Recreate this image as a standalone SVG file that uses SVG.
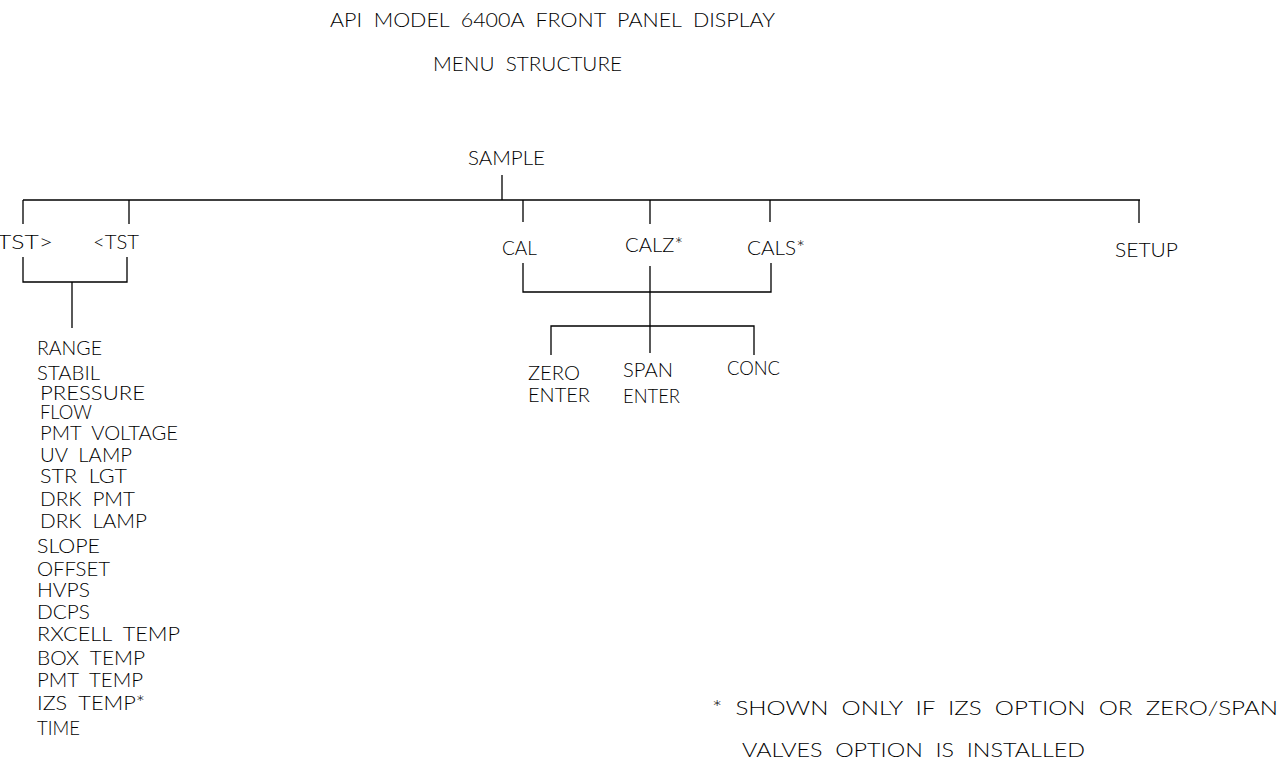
<svg xmlns="http://www.w3.org/2000/svg" width="1288" height="776" viewBox="0 0 1288 776">
<style>
text{font-family:Lato,"Liberation Sans","DejaVu Sans",sans-serif;font-weight:300;font-size:19px;fill:#000;white-space:pre;}
.ln{fill:none;stroke:#000;stroke-width:1.3;}
</style>
<rect width="1288" height="776" fill="#fff"/>
<g id="title" xml:space="preserve">
<text x="330" y="27" textLength="445" lengthAdjust="spacingAndGlyphs">API  MODEL  6400A  FRONT  PANEL  DISPLAY</text>
<text x="433" y="71" textLength="189" lengthAdjust="spacingAndGlyphs">MENU  STRUCTURE</text>
</g>
<g id="connectors" class="ln">
<path d="M502,175V200"/>
<path d="M23,200H1140"/>
<path d="M23,200V224M129,200V224M523,200V222M650,200V224M770,200V222M1139,200V223"/>
<path d="M23,257V282H127V257M72,282V328"/>
<path d="M523,263V292H771V263M650,266V353"/>
<path d="M551,355V326H754V355"/>
</g>
<g id="sample"><text x="468" y="165" textLength="77" lengthAdjust="spacingAndGlyphs">SAMPLE</text></g>
<g id="tst-next"><text x="-3" y="249" textLength="56" lengthAdjust="spacingAndGlyphs">TST&gt;</text></g>
<g id="tst-prev"><text x="93" y="249" textLength="46" lengthAdjust="spacingAndGlyphs">&lt;TST</text></g>
<g id="cal"><text x="502" y="255" textLength="35" lengthAdjust="spacingAndGlyphs">CAL</text></g>
<g id="calz"><text x="625" y="252" textLength="58" lengthAdjust="spacingAndGlyphs">CALZ*</text></g>
<g id="cals"><text x="747" y="255" textLength="58" lengthAdjust="spacingAndGlyphs">CALS*</text></g>
<g id="setup"><text x="1115" y="257" textLength="63" lengthAdjust="spacingAndGlyphs">SETUP</text></g>
<g id="zero-enter"><text x="528" y="380" textLength="52" lengthAdjust="spacingAndGlyphs">ZERO</text><text x="528" y="402" textLength="62" lengthAdjust="spacingAndGlyphs">ENTER</text></g>
<g id="span-enter"><text x="623" y="377" textLength="50" lengthAdjust="spacingAndGlyphs">SPAN</text><text x="623" y="403" textLength="57" lengthAdjust="spacingAndGlyphs">ENTER</text></g>
<g id="conc"><text x="727" y="375" textLength="53" lengthAdjust="spacingAndGlyphs">CONC</text></g>
<g id="test-list" xml:space="preserve">
<text x="37" y="355" textLength="65" lengthAdjust="spacingAndGlyphs">RANGE</text>
<text x="37" y="380" textLength="63" lengthAdjust="spacingAndGlyphs">STABIL</text>
<text x="40" y="400" textLength="105" lengthAdjust="spacingAndGlyphs">PRESSURE</text>
<text x="40" y="419" textLength="52" lengthAdjust="spacingAndGlyphs">FLOW</text>
<text x="40" y="440" textLength="138" lengthAdjust="spacingAndGlyphs">PMT  VOLTAGE</text>
<text x="40" y="462" textLength="92" lengthAdjust="spacingAndGlyphs">UV  LAMP</text>
<text x="40" y="483" textLength="87" lengthAdjust="spacingAndGlyphs">STR  LGT</text>
<text x="40" y="506" textLength="95" lengthAdjust="spacingAndGlyphs">DRK  PMT</text>
<text x="40" y="528" textLength="107" lengthAdjust="spacingAndGlyphs">DRK  LAMP</text>
<text x="37" y="553" textLength="63" lengthAdjust="spacingAndGlyphs">SLOPE</text>
<text x="37" y="576" textLength="73" lengthAdjust="spacingAndGlyphs">OFFSET</text>
<text x="37" y="597" textLength="53" lengthAdjust="spacingAndGlyphs">HVPS</text>
<text x="37" y="619" textLength="53" lengthAdjust="spacingAndGlyphs">DCPS</text>
<text x="37" y="641" textLength="143" lengthAdjust="spacingAndGlyphs">RXCELL  TEMP</text>
<text x="37" y="665" textLength="108" lengthAdjust="spacingAndGlyphs">BOX  TEMP</text>
<text x="37" y="687" textLength="106" lengthAdjust="spacingAndGlyphs">PMT  TEMP</text>
<text x="37" y="710" textLength="108" lengthAdjust="spacingAndGlyphs">IZS  TEMP*</text>
<text x="37" y="735" textLength="43" lengthAdjust="spacingAndGlyphs">TIME</text>
</g>
<g id="footnote" xml:space="preserve">
<text x="712" y="715" textLength="566" lengthAdjust="spacingAndGlyphs">*  SHOWN  ONLY  IF  IZS  OPTION  OR  ZERO/SPAN</text>
<text x="742" y="757" textLength="343" lengthAdjust="spacingAndGlyphs">VALVES  OPTION  IS  INSTALLED</text>
</g>
</svg>
